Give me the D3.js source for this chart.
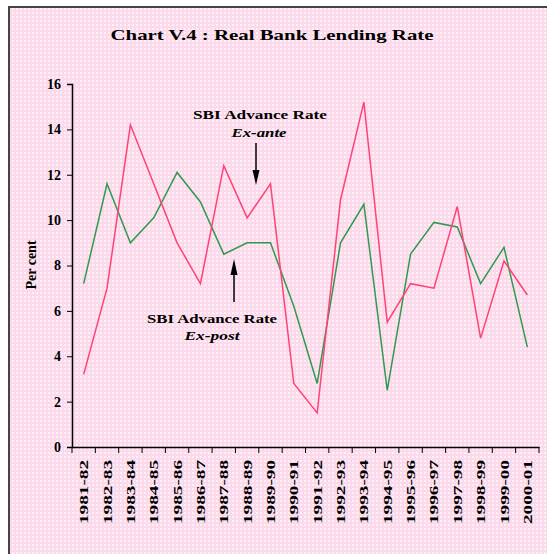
<!DOCTYPE html>
<html>
<head>
<meta charset="utf-8">
<script src="https://cdn.jsdelivr.net/npm/d3@7"></script>
<style>
  body { margin: 0; background: #fff; }
  text { font-family: 'Liberation Serif', 'DejaVu Serif', serif; font-weight: bold; fill: #000; }
</style>
</head>
<body>
<div id="chart"></div>
<script>
let years = ['1981-82', '1982-83', '1983-84', '1984-85', '1985-86', '1986-87', '1987-88',
  '1988-89', '1989-90', '1990-91', '1991-92', '1992-93', '1993-94', '1994-95', '1995-96',
  '1996-97', '1997-98', '1998-99', '1999-00', '2000-01']

// SBI advance rate, ex-ante (red)
let exAnte = [3.2, 7.0, 14.2, 11.6, 9.0, 7.2, 12.4, 10.1, 11.6, 2.8, 1.5, 10.9, 15.2, 5.5,
  7.2, 7.0, 10.6, 4.8, 8.2, 6.7]

// SBI advance rate, ex-post (green)
let exPost = [7.2, 11.6, 9.0, 10.1, 12.1, 10.8, 8.5, 9.0, 9.0, 6.2, 2.8, 9.0, 10.7, 2.5,
  8.5, 9.9, 9.7, 7.2, 8.8, 4.4]

let yTicks = [0, 2, 4, 6, 8, 10, 12, 14, 16]

let width = 547
let height = 554

let svg = d3
  .select('#chart')
  .append('svg')
  .attr('width', width)
  .attr('height', height)

// pink dotted background
let pattern = svg
  .append('defs')
  .append('pattern')
  .attr('id', 'dots')
  .attr('width', 4)
  .attr('height', 4)
  .attr('patternUnits', 'userSpaceOnUse')
pattern.append('rect').attr('width', 4).attr('height', 4).attr('fill', '#fbd9ea')
pattern.append('rect').attr('x', 0).attr('y', 0).attr('width', 2).attr('height', 2).attr('fill', '#fff0f6')
pattern.append('rect').attr('x', 2).attr('y', 2).attr('width', 1).attr('height', 1).attr('fill', '#f6e2f4')

svg
  .append('rect')
  .attr('x', 9)
  .attr('y', 7)
  .attr('width', 560)
  .attr('height', 560)
  .attr('fill', 'url(#dots)')
  .attr('stroke', '#444')
  .attr('stroke-width', 2)

let xPositionScale = d3.scaleBand().domain(years).range([72, 539])
let yPositionScale = d3.scaleLinear().domain([0, 16]).range([447, 84])

let line = d3
  .line()
  .x((d, i) => xPositionScale(years[i]) + xPositionScale.bandwidth() / 2)
  .y(d => yPositionScale(d))

// title
svg
  .append('text')
  .attr('x', 272)
  .attr('y', 40)
  .attr('text-anchor', 'middle')
  .attr('font-size', 15)
  .attr('textLength', 323)
  .attr('lengthAdjust', 'spacingAndGlyphs')
  .text('Chart V.4 : Real Bank Lending Rate')

// axes
let yAxis = d3.axisLeft(yPositionScale).tickValues(yTicks).tickSize(5).tickPadding(6)
let yG = svg.append('g').attr('transform', 'translate(72,0)').call(yAxis)
yG.selectAll('text').attr('font-size', 14)

let xAxis = d3.axisBottom(xPositionScale).tickSize(0).tickPadding(0)
let xG = svg.append('g').attr('transform', 'translate(0,447)').call(xAxis)
xG
  .selectAll('.tick text')
  .attr('font-size', 13)
  .attr('text-anchor', 'end')
  .attr('transform', 'rotate(-90)')
  .attr('x', -13)
  .attr('y', 0)
  .attr('dy', '0.35em')
  .attr('textLength', 64)
  .attr('lengthAdjust', 'spacingAndGlyphs')

// tick marks on band edges
let edges = years.map(d => xPositionScale(d)).concat([539])
xG
  .selectAll('.edge')
  .data(edges)
  .enter()
  .append('line')
  .attr('class', 'edge')
  .attr('x1', d => d)
  .attr('x2', d => d)
  .attr('y1', 0)
  .attr('y2', 6)
  .attr('stroke', '#000')

svg.selectAll('.domain').attr('stroke', '#000').attr('stroke-width', 1.5)
svg.selectAll('.tick line').attr('stroke', '#000')

svg
  .append('text')
  .attr('transform', 'translate(36,265) rotate(-90)')
  .attr('text-anchor', 'middle')
  .attr('font-size', 14)
  .text('Per cent')

// lines
svg
  .append('path')
  .datum(exPost)
  .attr('d', line)
  .attr('fill', 'none')
  .attr('stroke', '#2f9a4f')
  .attr('stroke-width', 1.5)

svg
  .append('path')
  .datum(exAnte)
  .attr('d', line)
  .attr('fill', 'none')
  .attr('stroke', '#ff4277')
  .attr('stroke-width', 1.5)

// annotations
svg
  .append('text')
  .attr('x', 260)
  .attr('y', 119)
  .attr('text-anchor', 'middle')
  .attr('font-size', 12)
  .attr('textLength', 134)
  .attr('lengthAdjust', 'spacingAndGlyphs')
  .text('SBI Advance Rate')
svg
  .append('text')
  .attr('x', 259)
  .attr('y', 137)
  .attr('text-anchor', 'middle')
  .attr('font-size', 12)
  .attr('font-style', 'italic')
  .attr('textLength', 55)
  .attr('lengthAdjust', 'spacingAndGlyphs')
  .text('Ex-ante')

svg
  .append('text')
  .attr('x', 212)
  .attr('y', 323)
  .attr('text-anchor', 'middle')
  .attr('font-size', 12)
  .attr('textLength', 130)
  .attr('lengthAdjust', 'spacingAndGlyphs')
  .text('SBI Advance Rate')
svg
  .append('text')
  .attr('x', 212)
  .attr('y', 340)
  .attr('text-anchor', 'middle')
  .attr('font-size', 12)
  .attr('font-style', 'italic')
  .attr('textLength', 55)
  .attr('lengthAdjust', 'spacingAndGlyphs')
  .text('Ex-post')

// arrows
svg
  .append('line')
  .attr('x1', 256)
  .attr('x2', 256)
  .attr('y1', 143)
  .attr('y2', 178)
  .attr('stroke', '#000')
  .attr('stroke-width', 1.5)
svg
  .append('path')
  .attr('d', 'M252.5,170 L259.5,170 L256,185 Z')
  .attr('fill', '#000')

svg
  .append('line')
  .attr('x1', 234)
  .attr('x2', 234)
  .attr('y1', 302)
  .attr('y2', 268)
  .attr('stroke', '#000')
  .attr('stroke-width', 1.5)
svg
  .append('path')
  .attr('d', 'M230.5,275 L237.5,275 L234,259 Z')
  .attr('fill', '#000')
</script>
</body>
</html>
